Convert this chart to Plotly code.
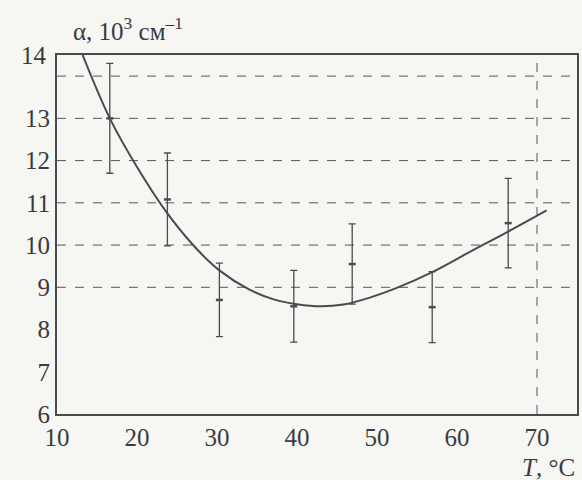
import plotly.graph_objects as go

# Measured points (temperature, absorption coefficient, error)
T_pts = [16.6, 23.8, 30.3, 39.6, 46.9, 56.9, 66.4]
alpha_pts = [13.0, 11.08, 8.7, 8.55, 9.55, 8.53, 10.52]
alpha_err = [1.3, 1.1, 0.87, 0.85, 0.95, 0.84, 1.06]

# Smooth fitted curve
T_curve = [13.2, 16.6, 20.0, 23.8, 27.5, 30.3, 34.0, 37.0, 40.0, 43.0, 46.0, 49.0, 52.4, 56.9, 61.9, 66.4, 71.2]
alpha_curve = [14.5, 13.0, 11.85, 10.75, 9.9, 9.4, 8.95, 8.72, 8.6, 8.55, 8.6, 8.75, 8.98, 9.36, 9.87, 10.32, 10.82]

x_ticks = [10, 20, 30, 40, 50, 60, 70]
y_ticks = [6, 7, 8, 9, 10, 11, 12, 13, 14]
y_ticktext = ["6", "7", "8", "9", "10", "11", "12", "13", ""]
h_grid = [9, 10, 11, 12, 13, 14]
v_grid = [70]

ink = "#4a4a52"
paper = "#f6f6f3"
font = "Liberation Serif"
fs = 25

fig = go.Figure()

fig.add_trace(go.Scatter(
    x=T_curve, y=alpha_curve, mode="lines", line=dict(color=ink, width=2, shape="spline", smoothing=1.0),
    hoverinfo="skip", showlegend=False))

fig.add_trace(go.Scatter(
    x=T_pts, y=alpha_pts, mode="markers",
    marker=dict(symbol="line-ew", size=5, line=dict(color=ink, width=2.5)),
    error_y=dict(type="data", array=alpha_err, visible=True, color=ink, thickness=1.3, width=3.5),
    showlegend=False))

shapes = []
for g in h_grid:
    shapes.append(dict(type="line", xref="paper", x0=0, x1=1, yref="y", y0=g, y1=g,
                       line=dict(color="#55555c", width=1, dash="dash"), layer="below"))
for g in v_grid:
    shapes.append(dict(type="line", xref="x", x0=g, x1=g, yref="paper", y0=0, y1=1,
                       line=dict(color="#55555c", width=1, dash="dash"), layer="below"))

fig.update_layout(
    width=582, height=480,
    margin=dict(l=57, r=3, t=55, b=66),
    paper_bgcolor=paper, plot_bgcolor=paper,
    font=dict(family=font, size=fs, color="#3a3a40"),
    shapes=shapes,
    xaxis=dict(range=[10, 75], tickvals=x_ticks, showgrid=False, zeroline=False,
               showline=True, linecolor=ink, linewidth=2, mirror=True, ticks="",
               tickfont=dict(family=font, size=fs)),
    yaxis=dict(range=[6, 14.5], tickvals=y_ticks, ticktext=y_ticktext, showgrid=False, zeroline=False,
               showline=True, linecolor=ink, linewidth=2, mirror=True, ticks="",
               tickfont=dict(family=font, size=fs)),
    annotations=[
        dict(text="14", xref="paper", x=0, xanchor="right", xshift=-8, yref="y", y=14.5,
             yanchor="middle", showarrow=False, font=dict(family=font, size=fs)),
        dict(text="\u03b1, 10<sup>3</sup> см<sup>\u20131</sup>", xref="paper", x=0.026, xanchor="left",
             yref="paper", y=1.0, yanchor="bottom", yshift=8, showarrow=False,
             font=dict(family=font, size=fs)),
        dict(text="<i>T</i>, \u00b0C", xref="paper", x=1.0, xanchor="right",
             yref="paper", y=0, yanchor="top", yshift=-38, showarrow=False,
             font=dict(family=font, size=fs)),
    ],
)

fig.write_html("out.html", config={"displayModeBar": False},
               post_script="document.body.style.margin='0';document.body.style.background='%s';" % paper)
